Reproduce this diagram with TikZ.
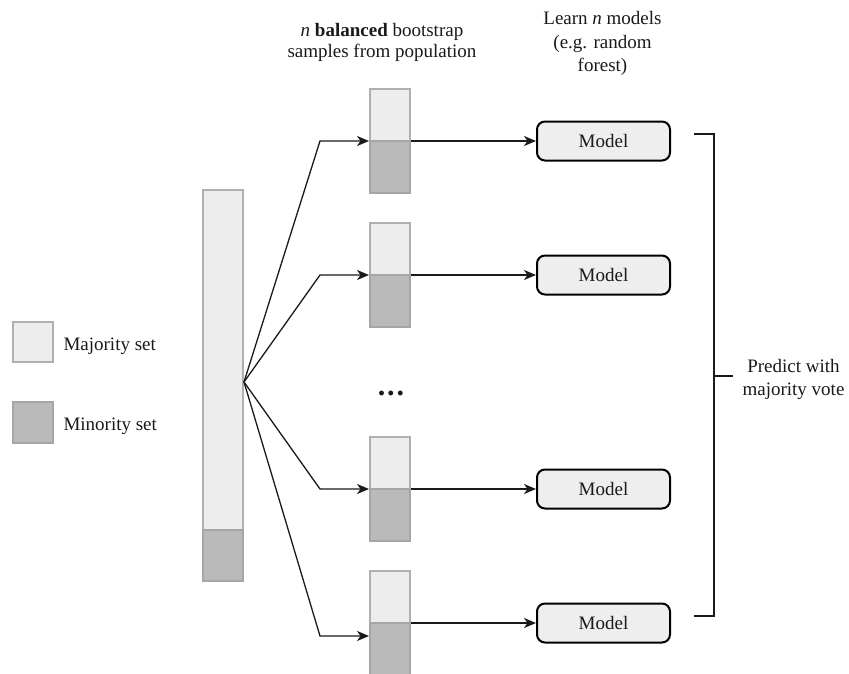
\documentclass[tikz,border=0pt]{standalone}
\usepackage{fontspec}
\setmainfont{Liberation Serif}
\usetikzlibrary{arrows.meta}

\definecolor{majfill}{HTML}{EDEDED}
\definecolor{majline}{HTML}{B0B0B0}
\definecolor{minfill}{HTML}{BABABA}
\definecolor{minline}{HTML}{A6A6A6}
\definecolor{modelfill}{HTML}{EEEEEE}
\definecolor{ink}{HTML}{1A1A1A}

\begin{document}
\begin{tikzpicture}[x=1pt,y=-1pt,
  every node/.style={font=\fontsize{19}{22}\selectfont, text=ink},
  majbox/.style={draw=majline, fill=majfill, line width=2pt, inner sep=0pt,
    outer sep=0pt, minimum width=40pt},
  minbox/.style={draw=minline, fill=minfill, line width=2pt, inner sep=0pt,
    outer sep=0pt, minimum width=40pt},
  model/.style={draw=black, fill=modelfill, line width=2pt, rounded corners=8pt,
    minimum width=133pt, minimum height=39pt, inner sep=0pt},
  flow/.style={draw=ink, line width=1.3pt,
    -{Stealth[length=12pt,width=10pt,inset=3.5pt]}},
  link/.style={draw=ink, line width=1.3pt},
]
\clip (0,0) rectangle (849,673);
\fill[white] (0,0) rectangle (849,673);

% legend
\node[majbox, minimum height=40pt] (legmaj) at (33,342) {};
\node[anchor=base west] (legmajtxt) at (60,350) {Majority set};
\node[minbox, minimum height=41pt] (legmin) at (33,422.5) {};
\node[anchor=base west] (legmintxt) at (60,430) {Minority set};

% full population bar
\node[majbox, minimum height=340pt, anchor=north] (barmaj) at (223,190) {};
\node[minbox, minimum height=51pt, anchor=north] (barmin) at (barmaj.south) {};
\coordinate (fan) at (244,382);

% balanced bootstrap samples
\foreach \i/\t in {1/89, 2/223, 3/437, 4/571} {
  \node[majbox, minimum height=52pt, anchor=north] (s\i maj) at (390,\t) {};
  \node[minbox, minimum height=52pt, anchor=north] (s\i min) at (s\i maj.south) {};
}
\node[font=\fontsize{30}{30}\bfseries] (dots) at (391,393) {.\kern2pt.\kern2pt.};

% models
\node[model] (m1) at (603.5,141) {Model};
\node[model] (m2) at (603.5,275) {Model};
\node[model] (m3) at (603.5,489) {Model};
\node[model] (m4) at (603.5,623) {Model};

% sampling arrows
\foreach \i in {1,2,3} {
  \draw[flow] (fan) -- ([xshift=-50pt]s\i min.north west) -- ([xshift=-1pt]s\i min.north west);
}
\draw[flow] (fan) -- ([xshift=-50pt,yshift=-13pt]s4min.north west)
  -- ([xshift=-1pt,yshift=-13pt]s4min.north west);

% training arrows
\foreach \i in {1,...,4} {
  \draw[flow] ([xshift=1pt]s\i min.north east) -- (m\i.west);
}

% voting bracket
\draw[link] (694,134) -- (714,134) -- (714,616) -- (694,616);
\draw[link] (714,376) -- (733,376);
\node[align=center, font=\fontsize{19}{23}\selectfont] (vote) at (793.5,379)
  {Predict with\\majority vote};

% column headings
\node[align=center, font=\fontsize{19}{21}\selectfont] (samphead) at (382,42.2)
  {\textit{n} \textbf{balanced} bootstrap\\samples from population};
\node[align=center, font=\fontsize{19}{23.5}\selectfont] (modhead) at (602.5,43.8)
  {Learn \textit{n} models\\(e.g. random\\forest)};
\end{tikzpicture}
\end{document}
